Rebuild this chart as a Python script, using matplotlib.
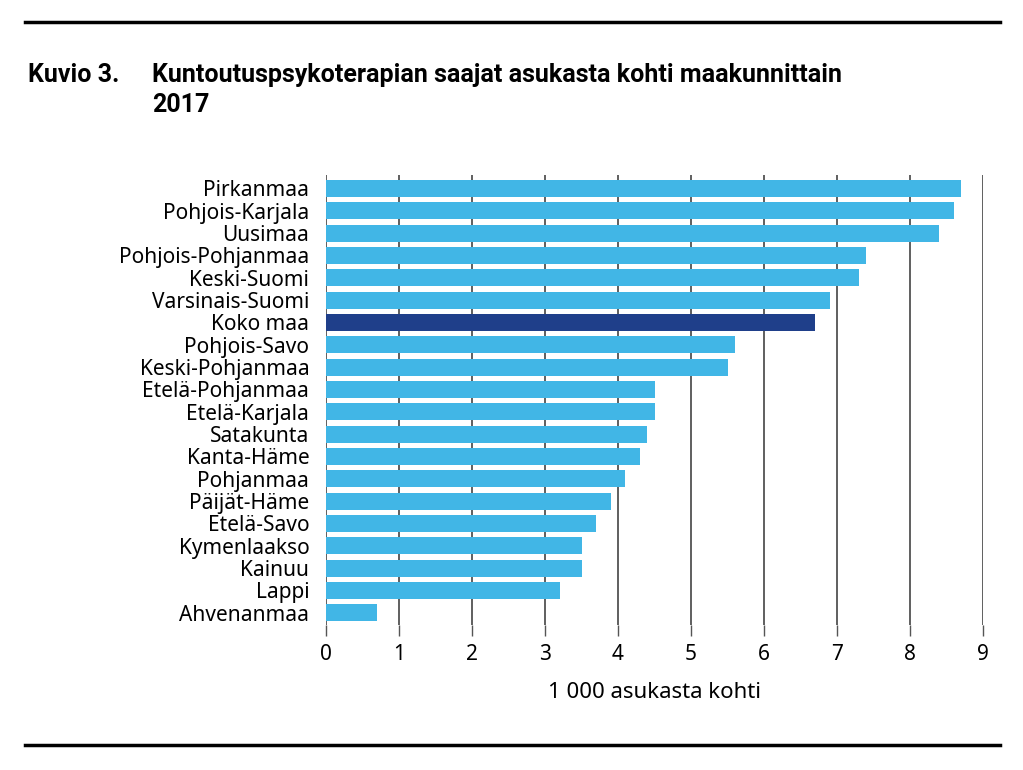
import matplotlib
matplotlib.use("Agg")
import matplotlib.pyplot as plt
from matplotlib.lines import Line2D

categories = ["Pirkanmaa","Pohjois-Karjala","Uusimaa","Pohjois-Pohjanmaa","Keski-Suomi",
              "Varsinais-Suomi","Koko maa","Pohjois-Savo","Keski-Pohjanmaa","Etelä-Pohjanmaa",
              "Etelä-Karjala","Satakunta","Kanta-Häme","Pohjanmaa","Päijät-Häme","Etelä-Savo",
              "Kymenlaakso","Kainuu","Lappi","Ahvenanmaa"]
values = [8.7,8.6,8.4,7.4,7.3,6.9,6.7,5.6,5.5,4.5,4.5,4.4,4.3,4.1,3.9,3.7,3.5,3.5,3.2,0.7]
xticks = list(range(10))

plt.rcParams["font.family"] = "Noto Sans"
fig = plt.figure(figsize=(10.23, 7.70), dpi=100)
ax = fig.add_axes([326/1023, 1-625/770, 657/1023, 450/770])
colors = ["#1f3f8a" if c == "Koko maa" else "#41b6e6" for c in categories]
y = list(range(len(categories)))
ax.barh(y, values, height=0.76, color=colors, zorder=3)
ax.set_ylim(len(categories)-0.45, -0.6)
ax.set_xlim(0, 9)
ax.set_yticks(y)
ax.set_yticklabels(categories, fontsize=15)
ax.set_xticks(xticks)
ax.set_xticklabels([str(t) for t in xticks], fontsize=15)
ax.tick_params(axis="y", length=0, pad=12)
ax.tick_params(axis="x", length=8, width=1, color="#555555", pad=6)
for s in ax.spines.values():
    s.set_visible(False)
ax.grid(axis="x", color="#444444", linewidth=1.2, zorder=0)
ax.set_xlabel("1 000 asukasta kohti", fontsize=16, labelpad=12)

tf = dict(fontsize=18, fontweight="bold", va="center", family="Roboto")
fig.text(28/1023, 1-75/770, "Kuvio 3.", **tf)
fig.text(152/1023, 1-75/770, "Kuntoutuspsykoterapian saajat asukasta kohti maakunnittain", **tf)
fig.text(152/1023, 1-105/770, "2017", **tf)
for yy in (22, 745):
    fig.add_artist(Line2D([25/1023, 1000/1023], [1-yy/770]*2, color="black", linewidth=2.5))
fig.savefig("out.png", dpi=100)
